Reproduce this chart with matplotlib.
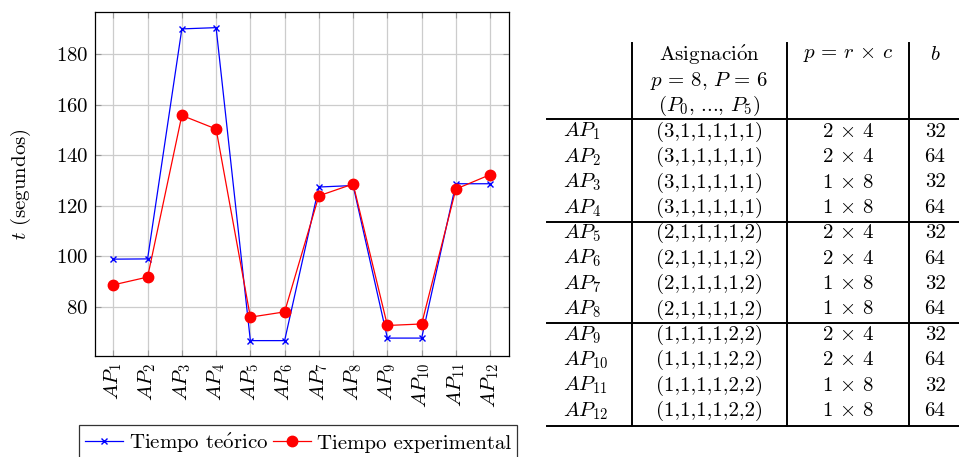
import matplotlib
matplotlib.use("Agg")
import matplotlib.pyplot as plt
from matplotlib.lines import Line2D

plt.rcParams["mathtext.fontset"] = "cm"
plt.rcParams["font.family"] = "serif"
plt.rcParams["font.serif"] = ["cmr10"]
plt.rcParams["axes.formatter.use_mathtext"] = True

# Execution times per assignment
labels = [r"$AP_{%d}$" % i for i in range(1, 13)]
t_teorico = [98.8, 98.9, 190.1, 190.6, 66.5, 66.5, 127.4, 128.0, 67.5, 67.5, 128.7, 128.7]
t_experimental = [88.6, 91.7, 155.8, 150.4, 75.8, 77.9, 123.9, 128.6, 72.5, 73.1, 126.6, 132.3]
yticks = [80, 100, 120, 140, 160, 180]

# Table contents
asignacion = ["(3,1,1,1,1,1)"] * 4 + ["(2,1,1,1,1,2)"] * 4 + ["(1,1,1,1,2,2)"] * 4
malla = [r"$2\,\times\,4$", r"$2\,\times\,4$", r"$1\,\times\,8$", r"$1\,\times\,8$"] * 3
bloque = ["32", "64"] * 6

W, H = 959, 457
fs = 15
fig = plt.figure(figsize=(W / 100, H / 100), dpi=100)

# ---- Line chart ----
ax = fig.add_axes([95 / W, (H - 356) / H, 414 / W, 344 / H])
x = list(range(1, 13))
ax.plot(x, t_teorico, color="#0000ff", lw=0.9, marker="x", ms=5, mew=1.0, zorder=3)
ax.plot(x, t_experimental, color="#ff0000", lw=0.9, marker="o", ms=7.5, zorder=4)

ax.set_xlim(0.465, 12.55)
ax.set_ylim(60.4, 196.8)
ax.set_xticks(x)
ax.set_xticklabels(labels, rotation=90, fontsize=fs)
ax.set_yticks(yticks)
ax.tick_params(axis="y", labelsize=fs)
ax.tick_params(direction="in", length=4, color="#999999", top=True, right=True, pad=5)
ax.grid(True, color="#cccccc", lw=0.9)
ax.set_axisbelow(True)
for s in ax.spines.values():
    s.set_linewidth(0.9)
ax.set_ylabel(r"$t$ (segundos)", fontsize=fs, labelpad=16)

handles = [
    Line2D([], [], color="#0000ff", lw=0.9, marker="x", ms=5, mew=1.0),
    Line2D([], [], color="#ff0000", lw=0.9, marker="o", ms=7.5),
]
leg = fig.legend(handles, [r"Tiempo te$\acute{\mathrm{o}}$rico", "Tiempo experimental"],
                 loc="upper left", bbox_to_anchor=(79 / W, (H - 425) / H), ncol=2,
                 fontsize=fs, frameon=True, fancybox=False, edgecolor="#333333",
                 framealpha=1, borderpad=0.3, handlelength=1.8, handletextpad=0.3,
                 columnspacing=0.25, borderaxespad=0)
leg.get_frame().set_linewidth(0.9)

# ---- Table drawn in pixel coordinates ----
tab = fig.add_axes([0, 0, 1, 1], facecolor="none")
tab.set_xlim(0, W)
tab.set_ylim(H, 0)
tab.axis("off")

col_x = [563, 709, 848, 935]
vlines = [632, 787, 909]
for vx in vlines:
    tab.plot([vx, vx], [43, 426], color="black", lw=1.4)

tab.text(col_x[1], 55, r"Asignaci$\acute{\mathrm{o}}$n", ha="center", va="center", fontsize=fs)
tab.text(col_x[1], 81, r"$p\,=\,8,\,P\,=\,6$", ha="center", va="center", fontsize=fs)
tab.text(col_x[1], 106, r"$(P_0,\,$...$,\,P_5)$", ha="center", va="center", fontsize=fs)
tab.text(col_x[2], 55, r"$p\,=\,r\,\times\,c$", ha="center", va="center", fontsize=fs)
tab.text(col_x[3], 55, r"$b$", ha="center", va="center", fontsize=fs)

row_y0, row_dy = 131.7, 25.4
for i in range(12):
    y = row_y0 + i * row_dy
    tab.text(col_x[0], y, labels[i], ha="left", va="center", fontsize=fs)
    tab.text(col_x[1], y, asignacion[i], ha="center", va="center", fontsize=fs)
    tab.text(col_x[2], y, malla[i], ha="center", va="center", fontsize=fs)
    tab.text(col_x[3], y, bloque[i], ha="center", va="center", fontsize=fs)

for hy in [119.3, 221.7, 323.3, 426]:
    tab.plot([547, W], [hy, hy], color="black", lw=1.4)

fig.savefig("out.png", dpi=100)
